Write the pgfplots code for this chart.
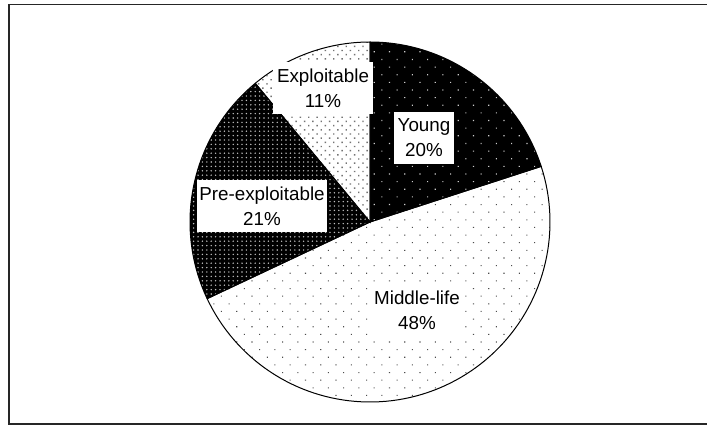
\documentclass[border=0pt]{standalone}
\usepackage{pgfplots}
\pgfplotsset{compat=1.18}
\usetikzlibrary{patterns.meta}
\usepackage{fontspec}
\setmainfont{Liberation Sans}

% shares (percent), clockwise from 12 o'clock
\def\vYoung{20}
\def\vMiddle{48}
\def\vPre{21}
\def\vExpl{11}

\tikzset{lbl/.style={fill=white, align=center, inner xsep=4pt, inner ysep=7pt,
    font=\fontsize{18.8}{25}\selectfont}}

\begin{document}
\begin{tikzpicture}
\useasboundingbox (0,0) rectangle (707pt,426pt);
\pgfmathsetmacro\aA{90}
\pgfmathsetmacro\aB{\aA-3.6*\vYoung}
\pgfmathsetmacro\aC{\aB-3.6*\vMiddle}
\pgfmathsetmacro\aD{\aC-3.6*\vPre}
\pgfmathsetmacro\aE{\aD-3.6*\vExpl}
\begin{axis}[at={(0,0)}, anchor=south west, scale only axis,
  width=707pt, height=426pt, xmin=0, xmax=707, ymin=0, ymax=426,
  hide axis, clip=false, samples=90, variable=\t]
% frame
\draw[line width=1.5pt, black!85] (axis cs:714,421.3) -- (axis cs:9,421.3) -- (axis cs:9,2) -- (axis cs:714,2);
% Young
\addplot[draw=none, fill=black, postaction={pattern={Dots[distance=10.8pt, angle=45, radius=0.8pt]}, pattern color=white!80!black}, domain=\aB:\aA]
  ({370+180*cos(\t)},{204+180*sin(\t)}) -- (axis cs:370,204) -- cycle;
% Middle-life
\addplot[draw=none, fill=white, postaction={pattern={Dots[distance=10.8pt, angle=45, radius=0.75pt]}, pattern color=black!70}, domain=\aC:\aB]
  ({370+180*cos(\t)},{204+180*sin(\t)}) -- (axis cs:370,204) -- cycle;
% Pre-exploitable
\addplot[draw=none, fill=black, postaction={pattern={Dots[distance=4.4pt, radius=0.8pt]}, pattern color=white!75!black}, domain=\aD:\aC]
  ({370+180*cos(\t)},{204+180*sin(\t)}) -- (axis cs:370,204) -- cycle;
% Exploitable
\addplot[draw=none, fill=white, postaction={pattern={Dots[distance=5.9pt, angle=45, radius=1pt]}, pattern color=black!55}, domain=\aE:\aD]
  ({370+180*cos(\t)},{204+180*sin(\t)}) -- (axis cs:370,204) -- cycle;
% outlines
\addplot[draw=black, line width=1pt, domain=\aB:\aA] ({370+180*cos(\t)},{204+180*sin(\t)}) -- (axis cs:370,204) -- cycle;
\addplot[draw=black, line width=1pt, domain=\aC:\aB] ({370+180*cos(\t)},{204+180*sin(\t)}) -- (axis cs:370,204) -- cycle;
\addplot[draw=black, line width=1pt, domain=\aD:\aC] ({370+180*cos(\t)},{204+180*sin(\t)}) -- (axis cs:370,204) -- cycle;
\addplot[draw=black, line width=1pt, domain=\aE:\aD] ({370+180*cos(\t)},{204+180*sin(\t)}) -- (axis cs:370,204) -- cycle;
% labels
\node[lbl] at (axis cs:424,288) {Young\\20\%};
\node[lbl] at (axis cs:417,116) {Middle-life\\48\%};
\node[lbl, inner xsep=2.5pt] at (axis cs:262,220) {Pre-exploitable\\21\%};
\node[lbl] at (axis cs:323,338) {Exploitable\\11\%};
\end{axis}
\end{tikzpicture}
\end{document}
